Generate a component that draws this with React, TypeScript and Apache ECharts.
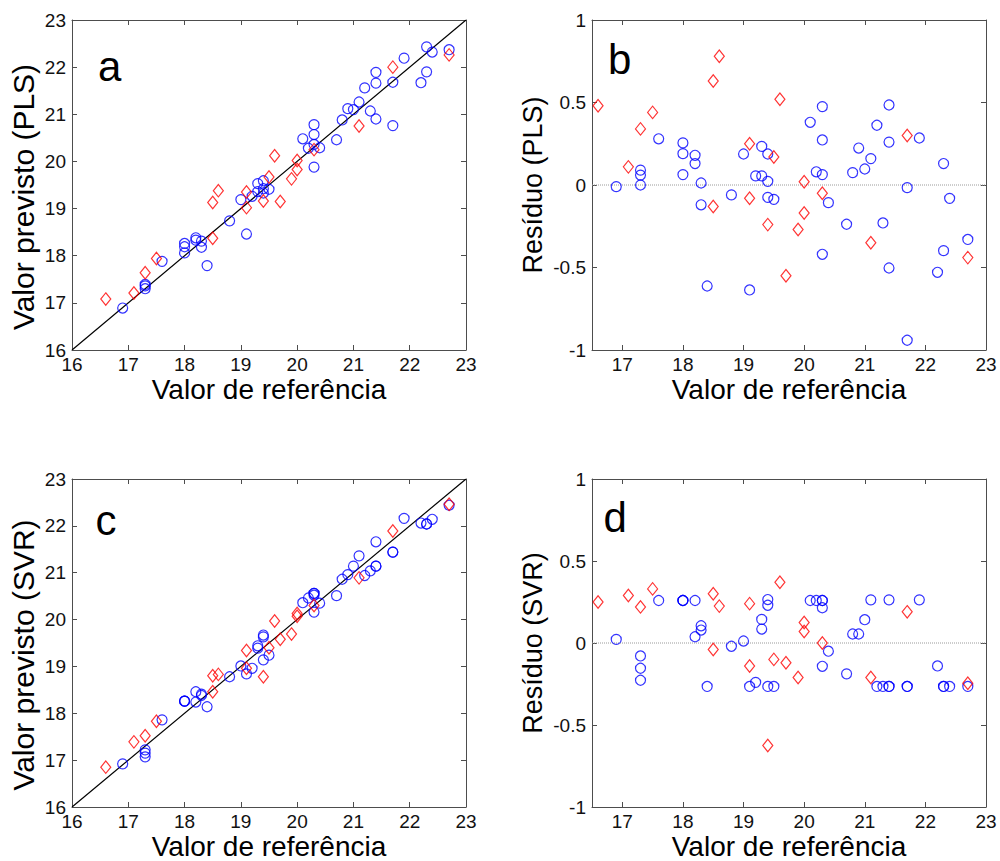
import React, { useEffect, useRef } from "react";
import * as echarts from "echarts";

// ---------- data ----------
// red diamonds: reference values
const refRed = [16.6, 17.1, 17.3, 17.5, 18.5, 18.6, 18.5, 19.1, 19.1, 19.5, 19.4, 19.6, 19.7, 19.9, 20.0, 20.0, 20.3, 21.1, 21.7, 22.7];
const plsRedPred = [17.08, 17.21, 17.64, 17.94, 19.13, 19.38, 18.37, 19.35, 19.02, 19.67, 19.16, 20.12, 19.15, 19.63, 20.02, 19.83, 20.25, 20.75, 22.0, 22.26];
const plsRedRes = [0.48, 0.11, 0.34, 0.44, 0.63, 0.78, -0.13, 0.25, -0.08, 0.17, -0.24, 0.52, -0.55, -0.27, 0.02, -0.17, -0.05, -0.35, 0.3, -0.44];
const svrRedPred = [16.85, 17.39, 17.52, 17.83, 18.8, 18.83, 18.46, 19.34, 18.96, 19.4, 18.78, 19.97, 19.58, 19.69, 20.13, 20.07, 20.3, 20.89, 21.89, 22.46];
const svrRedRes = [0.25, 0.29, 0.22, 0.33, 0.3, 0.225, -0.04, 0.24, -0.14, -0.1, -0.625, 0.37, -0.12, -0.21, 0.125, 0.07, 0.0, -0.21, 0.19, -0.245];

// blue circles: reference values
const refBlue = [16.9, 17.3, 17.3, 17.3, 17.6, 18.0, 18.0, 18.0, 18.2, 18.2, 18.3, 18.3, 18.4, 18.8, 19.0, 19.1, 19.2, 19.3, 19.3, 19.4, 19.4, 19.4, 19.5, 20.1, 20.2, 20.3, 20.3, 20.3, 20.3, 20.4, 20.7, 20.8, 20.9, 21.0, 21.1, 21.2, 21.3, 21.4, 21.4, 21.4, 21.7, 21.7, 21.9, 22.2, 22.3, 22.3, 22.4, 22.7];
const plsBluePred = [16.89, 17.39, 17.36, 17.3, 17.88, 18.26, 18.19, 18.06, 18.38, 18.33, 18.31, 18.18, 17.79, 18.74, 19.19, 18.46, 19.26, 19.53, 19.36, 19.59, 19.42, 19.33, 19.41, 20.48, 20.28, 20.78, 20.57, 20.36, 19.88, 20.29, 20.46, 20.88, 21.12, 21.1, 21.26, 21.56, 21.07, 21.89, 21.66, 20.9, 21.68, 20.76, 22.19, 21.67, 22.43, 21.9, 22.32, 22.37];
const plsBlueRes = [-0.01, 0.09, 0.06, 0.0, 0.28, 0.255, 0.19, 0.063, 0.18, 0.13, 0.012, -0.12, -0.612, -0.06, 0.188, -0.636, 0.055, 0.234, 0.055, 0.188, 0.022, -0.075, -0.087, 0.38, 0.08, 0.475, 0.273, 0.063, -0.42, -0.107, -0.238, 0.075, 0.224, 0.097, 0.16, 0.362, -0.23, 0.485, 0.26, -0.503, -0.016, -0.941, 0.285, -0.529, 0.13, -0.398, -0.081, -0.33];
const svrBluePred = [16.92, 17.22, 17.15, 17.07, 17.86, 18.26, 18.26, 18.26, 18.46, 18.24, 18.41, 18.38, 18.14, 18.78, 19.01, 18.84, 18.96, 19.44, 19.39, 19.67, 19.63, 19.14, 19.24, 20.36, 20.46, 20.56, 20.52, 20.16, 20.56, 20.35, 20.51, 20.86, 20.96, 21.14, 21.36, 20.94, 21.04, 21.66, 21.14, 21.14, 21.44, 21.44, 22.16, 22.06, 22.04, 22.04, 22.14, 22.44];
const svrBlueRes = [0.022, -0.079, -0.154, -0.227, 0.259, 0.259, 0.259, 0.259, 0.259, 0.038, 0.105, 0.079, -0.265, -0.02, 0.012, -0.265, -0.24, 0.144, 0.085, 0.265, 0.23, -0.265, -0.265, 0.259, 0.259, 0.259, 0.215, -0.142, 0.259, -0.05, -0.188, 0.055, 0.055, 0.142, 0.263, -0.265, -0.265, 0.263, -0.265, -0.265, -0.265, -0.265, 0.263, -0.14, -0.265, -0.265, -0.265, -0.265];

// axes / ticks
const predRange = [16, 23];
const residXRange = [16.5, 23];
const residYRange = [-1, 1];
const residXTicks = [17, 18, 19, 20, 21, 22, 23];
const identityLine = [16, 23];

// texts
const panelLetters = ["a", "b", "c", "d"];
const yTitles = ["Valor previsto (PLS)", "Resíduo (PLS)", "Valor previsto (SVR)", "Resíduo (SVR)"];
const xTitle = "Valor de referência";

// ---------- styling ----------
const FONT = '"Liberation Sans", Arial, sans-serif';
const AX = "#4d4d4d";
const TICK_FS = 19;
const TITLE_FS = 27;
const PRED_TITLE_FS = 30;

const grids = [
  { left: 72, top: 20, width: 394, height: 330 },
  { left: 592, top: 20, width: 394, height: 330 },
  { left: 72, top: 479, width: 394, height: 328 },
  { left: 592, top: 479, width: 394, height: 328 },
];

const letterPos = [
  { x: 98, y: 45 },
  { x: 608, y: 38 },
  { x: 95.5, y: 499 },
  { x: 603.5, y: 496 },
];

function makeXAxes(gi: number, resid: boolean) {
  const range = resid ? residXRange : predRange;
  const common: any = {
    type: "value",
    gridIndex: gi,
    min: range[0],
    max: range[1],
    splitLine: { show: false },
    axisLine: { show: true, onZero: false, lineStyle: { color: AX, width: 1 } },
  };
  if (!resid) common.interval = 1;
  const tick = (): any => {
    const t: any = { show: true, inside: true, length: 5, lineStyle: { color: AX, width: 1 } };
    if (resid) t.customValues = residXTicks;
    return t;
  };
  const label: any = { show: true, margin: 5, fontSize: TICK_FS, fontFamily: FONT, color: "#111" };
  if (resid) label.customValues = residXTicks;
  return [
    {
      ...common,
      position: "bottom",
      axisTick: tick(),
      axisLabel: label,
      name: xTitle,
      nameLocation: "middle",
      nameGap: 25,
      nameTextStyle: { fontSize: 28, fontFamily: FONT, color: "#000" },
    },
    { ...common, position: "top", axisTick: tick(), axisLabel: { show: false } },
  ];
}

function makeYAxes(gi: number, resid: boolean, title: string) {
  const range = resid ? residYRange : predRange;
  const common: any = {
    type: "value",
    gridIndex: gi,
    min: range[0],
    max: range[1],
    interval: resid ? 0.5 : 1,
    splitLine: { show: false },
    axisLine: { show: true, onZero: false, lineStyle: { color: AX, width: 1 } },
  };
  const tick = () => ({ show: true, inside: true, length: 5, lineStyle: { color: AX, width: 1 } });
  return [
    {
      ...common,
      position: "left",
      axisTick: tick(),
      axisLabel: { show: true, margin: 6, fontSize: TICK_FS, fontFamily: FONT, color: "#111" },
      name: title,
      nameLocation: "middle",
      nameRotate: 90,
      nameGap: resid ? 46 : 34,
      nameTextStyle: {
        fontSize: resid ? TITLE_FS : PRED_TITLE_FS,
        fontFamily: FONT,
        color: "#000",
        padding: resid ? 0 : [0, 24, 0, 0],
      },
    },
    { ...common, position: "right", axisTick: tick(), axisLabel: { show: false } },
  ];
}

function circles(gi: number, xs: number[], ys: number[]) {
  return {
    type: "scatter",
    xAxisIndex: gi * 2,
    yAxisIndex: gi * 2,
    symbol: "circle",
    symbolSize: 10,
    silent: true,
    itemStyle: { color: "rgba(0,0,0,0)", borderColor: "#0000ff", borderWidth: 1.2 },
    data: xs.map((x, i) => [x, ys[i]]),
    z: 3,
  };
}

function diamonds(gi: number, xs: number[], ys: number[]) {
  return {
    type: "scatter",
    xAxisIndex: gi * 2,
    yAxisIndex: gi * 2,
    symbol: "diamond",
    symbolSize: [10, 12.5],
    silent: true,
    itemStyle: { color: "rgba(0,0,0,0)", borderColor: "#ff0000", borderWidth: 1.2 },
    data: xs.map((x, i) => [x, ys[i]]),
    z: 4,
  };
}

function refLine(gi: number, pts: number[][], style: any) {
  return {
    type: "line",
    xAxisIndex: gi * 2,
    yAxisIndex: gi * 2,
    data: pts,
    symbol: "none",
    silent: true,
    lineStyle: style,
    z: 2,
  };
}

export default function App() {
  const ref = useRef<HTMLDivElement>(null);
  useEffect(() => {
    if (!ref.current) return;
    const chart = echarts.init(ref.current, null, { renderer: "svg" });
    const xAxis: any[] = [];
    const yAxis: any[] = [];
    const residFlags = [false, true, false, true];
    residFlags.forEach((r, gi) => {
      xAxis.push(...makeXAxes(gi, r));
      yAxis.push(...makeYAxes(gi, r, yTitles[gi]));
    });
    const series: any[] = [
      refLine(0, [[identityLine[0], identityLine[0]], [identityLine[1], identityLine[1]]], { color: "#000", width: 1.2 }),
      circles(0, refBlue, plsBluePred),
      diamonds(0, refRed, plsRedPred),
      refLine(1, [[residXRange[0], 0], [residXRange[1], 0]], { color: "#9a9a9a", width: 1, type: "dotted" }),
      circles(1, refBlue, plsBlueRes),
      diamonds(1, refRed, plsRedRes),
      refLine(2, [[identityLine[0], identityLine[0]], [identityLine[1], identityLine[1]]], { color: "#000", width: 1.2 }),
      circles(2, refBlue, svrBluePred),
      diamonds(2, refRed, svrRedPred),
      refLine(3, [[residXRange[0], 0], [residXRange[1], 0]], { color: "#9a9a9a", width: 1, type: "dotted" }),
      circles(3, refBlue, svrBlueRes),
      diamonds(3, refRed, svrRedRes),
    ];
    chart.setOption({
      animation: false,
      backgroundColor: "#ffffff",
      grid: grids.map((g) => ({ ...g, containLabel: false })),
      xAxis,
      yAxis,
      series,
      graphic: panelLetters.map((t, i) => ({
        type: "text",
        x: letterPos[i].x,
        y: letterPos[i].y,
        silent: true,
        style: { text: t, fontSize: 42, fontFamily: FONT, fill: "#000", align: "left", verticalAlign: "top" },
      })),
    });
    return () => chart.dispose();
  }, []);
  return (
    <div
      ref={ref}
      style={{ position: "absolute", left: 0, top: 0, width: 1000, height: 861, background: "#fff" }}
    />
  );
}
